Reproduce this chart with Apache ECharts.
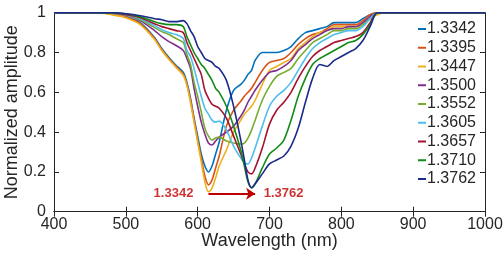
<!DOCTYPE html>
<html><head><meta charset="utf-8">
<script src="https://cdn.jsdelivr.net/npm/echarts@6/dist/echarts.min.js"></script>
<style>html,body{margin:0;padding:0;background:#fff}#c{width:504px;height:256px}</style>
</head><body><div id="c"></div>
<script>
const wavelength = [400,460,480,500,520,540,550,560,570,580,585,590,595,600,605,610,615,620,625,630,640,650,660,665,670,675,680,690,700,710,720,730,740,750,760,770,780,790,800,810,820,830,840,850,860,900,950,1000];
const names = ['1.3342','1.3395','1.3447','1.3500','1.3552','1.3605','1.3657','1.3710','1.3762'];
const s1 = [1,1,0.995,0.98,0.95,0.875,0.82,0.775,0.735,0.70,0.65,0.57,0.47,0.38,0.29,0.23,0.20,0.23,0.29,0.35,0.51,0.61,0.64,0.66,0.69,0.71,0.76,0.80,0.80,0.80,0.81,0.83,0.87,0.90,0.91,0.92,0.93,0.95,0.95,0.95,0.95,0.97,0.99,1,1,1,1,1];
const s2 = [1,1,0.993,0.978,0.945,0.87,0.815,0.77,0.73,0.69,0.64,0.56,0.46,0.36,0.27,0.18,0.135,0.16,0.22,0.28,0.43,0.51,0.555,0.58,0.60,0.62,0.65,0.71,0.75,0.76,0.77,0.80,0.84,0.87,0.89,0.90,0.92,0.94,0.94,0.94,0.94,0.96,0.99,1,1,1,1,1];
const s3 = [1,1,0.99,0.975,0.94,0.865,0.81,0.765,0.725,0.685,0.635,0.55,0.45,0.35,0.25,0.15,0.10,0.12,0.17,0.23,0.31,0.40,0.46,0.49,0.51,0.53,0.56,0.64,0.71,0.73,0.75,0.77,0.82,0.85,0.88,0.90,0.91,0.93,0.93,0.93,0.93,0.95,0.97,0.99,1,1,1,1];
const s4 = [1,1,0.998,0.99,0.96,0.91,0.88,0.855,0.835,0.81,0.77,0.72,0.62,0.53,0.45,0.39,0.345,0.335,0.355,0.375,0.40,0.43,0.48,0.51,0.55,0.58,0.61,0.66,0.70,0.71,0.73,0.76,0.81,0.84,0.87,0.89,0.91,0.92,0.92,0.93,0.93,0.95,0.98,1,1,1,1,1];
const s5 = [1,1,0.998,0.99,0.965,0.925,0.905,0.89,0.87,0.85,0.79,0.74,0.65,0.58,0.50,0.42,0.38,0.36,0.37,0.375,0.355,0.345,0.34,0.345,0.37,0.41,0.46,0.56,0.63,0.68,0.70,0.72,0.77,0.81,0.85,0.87,0.89,0.91,0.91,0.92,0.92,0.94,0.97,1,1,1,1,1];
const s6 = [1,1,0.998,0.99,0.97,0.935,0.915,0.90,0.89,0.87,0.81,0.78,0.72,0.65,0.58,0.52,0.49,0.46,0.45,0.455,0.41,0.33,0.27,0.245,0.24,0.27,0.32,0.43,0.53,0.58,0.61,0.65,0.71,0.77,0.82,0.85,0.87,0.89,0.90,0.91,0.91,0.93,0.97,1,1,1,1,1];
const s7 = [1,1,0.999,0.99,0.975,0.945,0.93,0.92,0.91,0.90,0.85,0.81,0.77,0.73,0.69,0.61,0.57,0.54,0.53,0.52,0.47,0.38,0.29,0.24,0.20,0.19,0.22,0.32,0.44,0.51,0.55,0.60,0.67,0.73,0.78,0.81,0.83,0.85,0.86,0.87,0.88,0.90,0.95,1,1,1,1,1];
const s8 = [1,1,0.999,0.995,0.98,0.955,0.945,0.94,0.94,0.93,0.88,0.84,0.80,0.77,0.74,0.72,0.69,0.66,0.62,0.60,0.53,0.43,0.31,0.23,0.15,0.12,0.14,0.22,0.29,0.32,0.36,0.46,0.58,0.67,0.74,0.77,0.79,0.81,0.83,0.85,0.86,0.89,0.94,1,1,1,1,1];
const s9 = [1,1,1,0.995,0.985,0.97,0.965,0.955,0.955,0.96,0.945,0.91,0.88,0.83,0.80,0.77,0.76,0.75,0.73,0.72,0.66,0.53,0.36,0.26,0.16,0.12,0.14,0.19,0.24,0.26,0.28,0.33,0.42,0.55,0.67,0.74,0.73,0.76,0.78,0.80,0.82,0.86,0.93,1,1,1,1,1];
const xTicks = [400,500,600,700,800,900,1000];
const yTicks = [0,0.2,0.4,0.6,0.8,1];
const annotX = [615, 680];
const annotY = 0.09;
const annotLabels = ['1.3342','1.3762'];
const annotLabelX = [594, 692];

const allSeries = [s1,s2,s3,s4,s5,s6,s7,s8,s9];
const colors = ['#0072BD','#D95319','#EDB120','#7E2F8E','#77AC30','#4DBEEE','#A2142F','#138A17','#1C2A8C'];
const txt = '#262626';
const font = 'Liberation Sans, Arial, sans-serif';

const series = allSeries.map((v,i)=>({
  name: names[i], type:'line', smooth:0.3, showSymbol:false, symbol:'none',
  data: wavelength.map((w,j)=>[w,v[j]]),
  lineStyle:{width:1.6,color:colors[i]}, itemStyle:{color:colors[i]}, z:2
}));
series.push({
  type:'line', data:[], silent:true,
  markLine:{silent:true, symbol:['none','arrow'], symbolSize:[9,9],
    lineStyle:{color:'#C00000',width:2,type:'solid'}, label:{show:false},
    data:[[{coord:[annotX[0],annotY]},{coord:[annotX[1],annotY]}]]}
});
series.push({
  type:'scatter', symbolSize:0, silent:true,
  data:[[annotLabelX[0],annotY,annotLabels[0],'left'],[annotLabelX[1],annotY,annotLabels[1],'right']].map(d=>({value:[d[0],d[1]],label:{position:d[3],formatter:d[2]}})),
  label:{show:true,color:'#C00000',fontWeight:'bold',fontSize:13,fontFamily:font,distance:0}
});

const axisCommon = {
  axisLine:{show:true,lineStyle:{color:txt,width:1}},
  axisTick:{show:true,inside:true,length:5,lineStyle:{color:txt}},
  splitLine:{show:false}
};
const chart = echarts.init(document.getElementById('c'),null,{renderer:'canvas'});
chart.setOption({
  animation:false,
  grid:{left:54,right:19,top:12.7,bottom:44.3,containLabel:false,outerBoundsMode:'none'},
  legend:{
    data:names, orient:'vertical', left:418, top:21,
    itemWidth:8, itemHeight:2, itemGap:2.75, icon:'rect',
    textStyle:{fontSize:16,fontFamily:font,color:txt,lineHeight:16,padding:[0,0,0,-4]},
    backgroundColor:'#fff', padding:[0,0,0,0]
  },
  xAxis:[
    Object.assign({type:'value',min:400,max:1000,interval:100,position:'bottom',
      name:'Wavelength (nm)',nameLocation:'middle',nameGap:20,nameMoveOverlap:false,
      nameTextStyle:{fontSize:18,fontFamily:font,color:txt,verticalAlign:'top'},
      axisLabel:{fontSize:16,fontFamily:font,color:txt,margin:5,
        formatter:v=>xTicks.includes(v)?String(v):''}},axisCommon),
    Object.assign({type:'value',min:400,max:1000,interval:100,position:'top',axisLabel:{show:false}},axisCommon)
  ],
  yAxis:[
    Object.assign({type:'value',min:0,max:1,interval:0.2,position:'left',
      name:'Normalized amplitude',nameLocation:'middle',nameGap:33,nameRotate:90,nameMoveOverlap:false,
      nameTextStyle:{fontSize:18,fontFamily:font,color:txt},
      axisLabel:{fontSize:16,fontFamily:font,color:txt,margin:8,
        formatter:v=>{const t=yTicks.find(y=>Math.abs(y-v)<1e-9);return t===undefined?'':String(t);}}},axisCommon),
    Object.assign({type:'value',min:0,max:1,interval:0.2,position:'right',axisLabel:{show:false}},axisCommon)
  ],
  series:series
});
</script></body></html>
